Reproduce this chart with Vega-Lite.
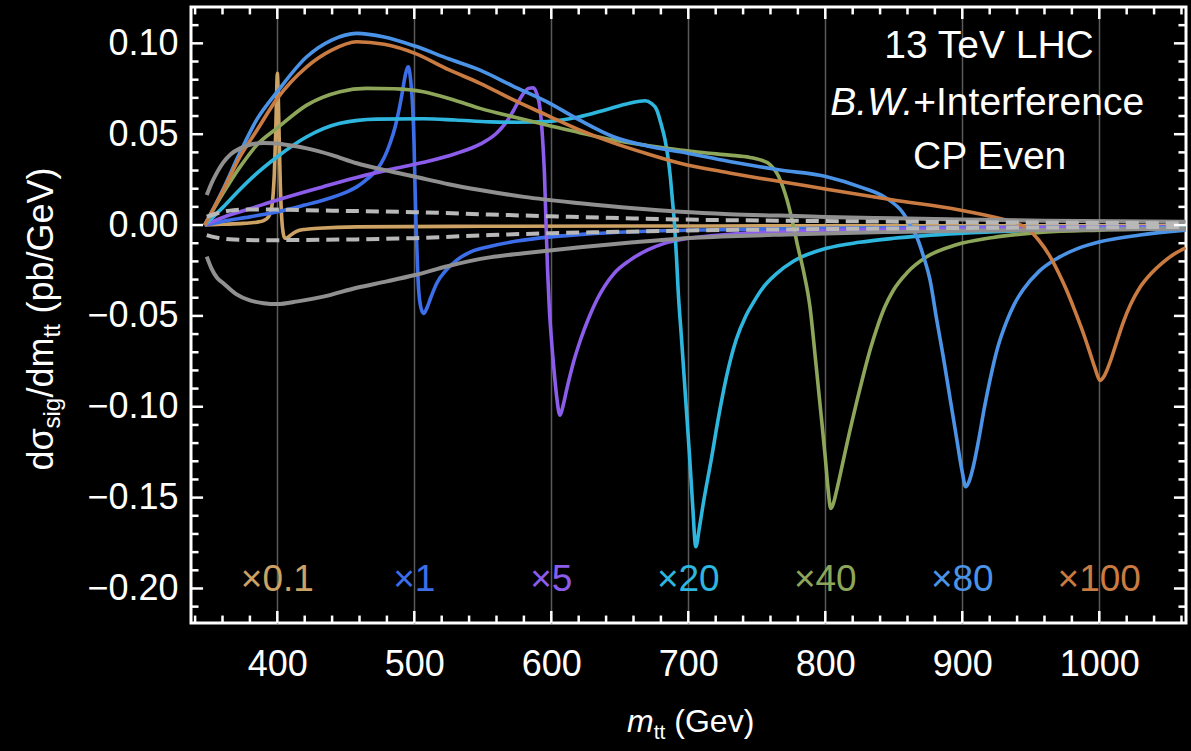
{
  "$schema": "https://vega.github.io/schema/vega-lite/v6.json",
  "width": 995,
  "height": 616,
  "autosize": {"type": "none"},
  "padding": {"left": 191, "top": 7, "right": 5, "bottom": 128},
  "background": "#000000",
  "config": {
    "view": {"stroke": "#ffffff", "strokeWidth": 3},
    "axis": {
      "domain": false,
      "grid": false,
      "labelFont": "Liberation Sans",
      "titleFont": "Liberation Sans",
      "labelColor": "#ffffff",
      "titleColor": "#ffffff",
      "titleFontWeight": "normal",
      "labelFontSize": 36
    }
  },
  "datasets": {
    "curves": [
      {"s": "x0.1", "x": 347, "y": 0}, {"s": "x0.1", "x": 360, "y": 0.0004}, {"s": "x0.1", "x": 375, "y": 0.0009}, {"s": "x0.1", "x": 385, "y": 0.0016}, {"s": "x0.1", "x": 390, "y": 0.0025}, {"s": "x0.1", "x": 393, "y": 0.004}, {"s": "x0.1", "x": 395, "y": 0.007}, {"s": "x0.1", "x": 396.5, "y": 0.013}, {"s": "x0.1", "x": 397.8, "y": 0.028}, {"s": "x0.1", "x": 398.8, "y": 0.05}, {"s": "x0.1", "x": 399.5, "y": 0.072}, {"s": "x0.1", "x": 400, "y": 0.0835}, {"s": "x0.1", "x": 400.6, "y": 0.074}, {"s": "x0.1", "x": 401.3, "y": 0.05}, {"s": "x0.1", "x": 402.2, "y": 0.022}, {"s": "x0.1", "x": 403.2, "y": 0.004}, {"s": "x0.1", "x": 404.2, "y": -0.004}, {"s": "x0.1", "x": 405.5, "y": -0.0073}, {"s": "x0.1", "x": 407, "y": -0.0072}, {"s": "x0.1", "x": 409, "y": -0.006}, {"s": "x0.1", "x": 414, "y": -0.0035}, {"s": "x0.1", "x": 420, "y": -0.0024}, {"s": "x0.1", "x": 430, "y": -0.0018}, {"s": "x0.1", "x": 458, "y": -0.001}, {"s": "x0.1", "x": 550, "y": -0.0007}, {"s": "x0.1", "x": 700, "y": -0.0005}, {"s": "x0.1", "x": 900, "y": -0.0004}, {"s": "x0.1", "x": 1063, "y": -0.0003},

      {"s": "x1", "x": 347, "y": 0}, {"s": "x1", "x": 360, "y": 0.002}, {"s": "x1", "x": 380, "y": 0.0045}, {"s": "x1", "x": 400, "y": 0.0073}, {"s": "x1", "x": 420, "y": 0.011}, {"s": "x1", "x": 434, "y": 0.0138}, {"s": "x1", "x": 450, "y": 0.018}, {"s": "x1", "x": 458, "y": 0.021}, {"s": "x1", "x": 466, "y": 0.0255}, {"s": "x1", "x": 472.5, "y": 0.0303}, {"s": "x1", "x": 478, "y": 0.037}, {"s": "x1", "x": 482.3, "y": 0.045}, {"s": "x1", "x": 486, "y": 0.054}, {"s": "x1", "x": 488.3, "y": 0.0615}, {"s": "x1", "x": 491, "y": 0.072}, {"s": "x1", "x": 493.2, "y": 0.0816}, {"s": "x1", "x": 495.6, "y": 0.0871}, {"s": "x1", "x": 497.3, "y": 0.08}, {"s": "x1", "x": 498.8, "y": 0.065}, {"s": "x1", "x": 499.8, "y": 0.045}, {"s": "x1", "x": 500.5, "y": 0.022}, {"s": "x1", "x": 501.3, "y": 0}, {"s": "x1", "x": 502.2, "y": -0.02}, {"s": "x1", "x": 503.2, "y": -0.036}, {"s": "x1", "x": 505, "y": -0.046}, {"s": "x1", "x": 506.8, "y": -0.0486}, {"s": "x1", "x": 509, "y": -0.046}, {"s": "x1", "x": 512, "y": -0.04}, {"s": "x1", "x": 516.4, "y": -0.032}, {"s": "x1", "x": 523, "y": -0.025}, {"s": "x1", "x": 531, "y": -0.0193}, {"s": "x1", "x": 542, "y": -0.0145}, {"s": "x1", "x": 555, "y": -0.0118}, {"s": "x1", "x": 575, "y": -0.0088}, {"s": "x1", "x": 600, "y": -0.0065}, {"s": "x1", "x": 625, "y": -0.005}, {"s": "x1", "x": 660, "y": -0.0037}, {"s": "x1", "x": 720, "y": -0.0026}, {"s": "x1", "x": 800, "y": -0.0018}, {"s": "x1", "x": 900, "y": -0.0013}, {"s": "x1", "x": 1063, "y": -0.0009},

      {"s": "x5", "x": 347, "y": 0}, {"s": "x5", "x": 365, "y": 0.0055}, {"s": "x5", "x": 380, "y": 0.009}, {"s": "x5", "x": 400, "y": 0.0138}, {"s": "x5", "x": 433, "y": 0.021}, {"s": "x5", "x": 458, "y": 0.0262}, {"s": "x5", "x": 482, "y": 0.0305}, {"s": "x5", "x": 507, "y": 0.0345}, {"s": "x5", "x": 531, "y": 0.0395}, {"s": "x5", "x": 548, "y": 0.0445}, {"s": "x5", "x": 560, "y": 0.0505}, {"s": "x5", "x": 566, "y": 0.0555}, {"s": "x5", "x": 572, "y": 0.0625}, {"s": "x5", "x": 576, "y": 0.068}, {"s": "x5", "x": 580, "y": 0.0728}, {"s": "x5", "x": 583.5, "y": 0.0752}, {"s": "x5", "x": 586.9, "y": 0.0756}, {"s": "x5", "x": 589.5, "y": 0.072}, {"s": "x5", "x": 591.8, "y": 0.064}, {"s": "x5", "x": 593.6, "y": 0.048}, {"s": "x5", "x": 595, "y": 0.028}, {"s": "x5", "x": 596.2, "y": 0}, {"s": "x5", "x": 597.3, "y": -0.025}, {"s": "x5", "x": 598.5, "y": -0.045}, {"s": "x5", "x": 600, "y": -0.062}, {"s": "x5", "x": 602, "y": -0.08}, {"s": "x5", "x": 604, "y": -0.095}, {"s": "x5", "x": 605.5, "y": -0.103}, {"s": "x5", "x": 606.4, "y": -0.1046}, {"s": "x5", "x": 608.4, "y": -0.1}, {"s": "x5", "x": 611.4, "y": -0.09}, {"s": "x5", "x": 616.4, "y": -0.075}, {"s": "x5", "x": 621.4, "y": -0.063}, {"s": "x5", "x": 627.4, "y": -0.051}, {"s": "x5", "x": 633.4, "y": -0.041}, {"s": "x5", "x": 645.4, "y": -0.027}, {"s": "x5", "x": 657.5, "y": -0.0193}, {"s": "x5", "x": 670, "y": -0.0138}, {"s": "x5", "x": 682, "y": -0.0102}, {"s": "x5", "x": 700, "y": -0.0073}, {"s": "x5", "x": 730, "y": -0.0051}, {"s": "x5", "x": 770, "y": -0.0036}, {"s": "x5", "x": 850, "y": -0.0023}, {"s": "x5", "x": 950, "y": -0.0015}, {"s": "x5", "x": 1063, "y": -0.001},

      {"s": "x20", "x": 347, "y": 0}, {"s": "x20", "x": 360.6, "y": 0.01}, {"s": "x20", "x": 372, "y": 0.019}, {"s": "x20", "x": 385, "y": 0.0284}, {"s": "x20", "x": 400, "y": 0.0376}, {"s": "x20", "x": 421.5, "y": 0.0486}, {"s": "x20", "x": 445.8, "y": 0.056}, {"s": "x20", "x": 472.5, "y": 0.0583}, {"s": "x20", "x": 506.6, "y": 0.0585}, {"s": "x20", "x": 530, "y": 0.0578}, {"s": "x20", "x": 555, "y": 0.0568}, {"s": "x20", "x": 575, "y": 0.0566}, {"s": "x20", "x": 597, "y": 0.057}, {"s": "x20", "x": 620, "y": 0.0595}, {"s": "x20", "x": 640, "y": 0.0635}, {"s": "x20", "x": 657, "y": 0.067}, {"s": "x20", "x": 668.4, "y": 0.0684}, {"s": "x20", "x": 673, "y": 0.067}, {"s": "x20", "x": 677, "y": 0.0633}, {"s": "x20", "x": 680, "y": 0.056}, {"s": "x20", "x": 683, "y": 0.047}, {"s": "x20", "x": 685, "y": 0.038}, {"s": "x20", "x": 686.6, "y": 0.0286}, {"s": "x20", "x": 688.5, "y": 0.013}, {"s": "x20", "x": 690, "y": 0}, {"s": "x20", "x": 691.4, "y": -0.018}, {"s": "x20", "x": 692.6, "y": -0.036}, {"s": "x20", "x": 695, "y": -0.062}, {"s": "x20", "x": 698, "y": -0.095}, {"s": "x20", "x": 701, "y": -0.128}, {"s": "x20", "x": 703, "y": -0.152}, {"s": "x20", "x": 705.5, "y": -0.177}, {"s": "x20", "x": 708, "y": -0.167}, {"s": "x20", "x": 711, "y": -0.153}, {"s": "x20", "x": 717, "y": -0.128}, {"s": "x20", "x": 722, "y": -0.106}, {"s": "x20", "x": 728, "y": -0.083}, {"s": "x20", "x": 735, "y": -0.063}, {"s": "x20", "x": 742, "y": -0.05}, {"s": "x20", "x": 748, "y": -0.042}, {"s": "x20", "x": 755, "y": -0.034}, {"s": "x20", "x": 764, "y": -0.027}, {"s": "x20", "x": 777, "y": -0.0198}, {"s": "x20", "x": 801, "y": -0.0128}, {"s": "x20", "x": 825, "y": -0.0095}, {"s": "x20", "x": 850, "y": -0.0073}, {"s": "x20", "x": 898, "y": -0.0046}, {"s": "x20", "x": 950, "y": -0.003}, {"s": "x20", "x": 1000, "y": -0.0022}, {"s": "x20", "x": 1063, "y": -0.0015},

      {"s": "x40", "x": 347, "y": 0}, {"s": "x40", "x": 360, "y": 0.017}, {"s": "x40", "x": 372.8, "y": 0.032}, {"s": "x40", "x": 385, "y": 0.044}, {"s": "x40", "x": 400, "y": 0.0534}, {"s": "x40", "x": 421.5, "y": 0.066}, {"s": "x40", "x": 445.8, "y": 0.0734}, {"s": "x40", "x": 465, "y": 0.0752}, {"s": "x40", "x": 485, "y": 0.075}, {"s": "x40", "x": 506.6, "y": 0.0734}, {"s": "x40", "x": 530, "y": 0.0685}, {"s": "x40", "x": 548, "y": 0.0642}, {"s": "x40", "x": 575, "y": 0.059}, {"s": "x40", "x": 596.6, "y": 0.055}, {"s": "x40", "x": 620, "y": 0.051}, {"s": "x40", "x": 645.3, "y": 0.0468}, {"s": "x40", "x": 670, "y": 0.0438}, {"s": "x40", "x": 694, "y": 0.0413}, {"s": "x40", "x": 712, "y": 0.0398}, {"s": "x40", "x": 730, "y": 0.0385}, {"s": "x40", "x": 745, "y": 0.0372}, {"s": "x40", "x": 752, "y": 0.036}, {"s": "x40", "x": 760, "y": 0.033}, {"s": "x40", "x": 767, "y": 0.025}, {"s": "x40", "x": 772, "y": 0.014}, {"s": "x40", "x": 776.6, "y": 0}, {"s": "x40", "x": 780, "y": -0.012}, {"s": "x40", "x": 784, "y": -0.025}, {"s": "x40", "x": 788.8, "y": -0.045}, {"s": "x40", "x": 793, "y": -0.075}, {"s": "x40", "x": 797, "y": -0.105}, {"s": "x40", "x": 800, "y": -0.128}, {"s": "x40", "x": 802, "y": -0.145}, {"s": "x40", "x": 804, "y": -0.156}, {"s": "x40", "x": 806, "y": -0.153}, {"s": "x40", "x": 808, "y": -0.147}, {"s": "x40", "x": 813, "y": -0.13}, {"s": "x40", "x": 818, "y": -0.113}, {"s": "x40", "x": 823, "y": -0.097}, {"s": "x40", "x": 828, "y": -0.082}, {"s": "x40", "x": 833, "y": -0.068}, {"s": "x40", "x": 838, "y": -0.056}, {"s": "x40", "x": 843.5, "y": -0.045}, {"s": "x40", "x": 849.6, "y": -0.036}, {"s": "x40", "x": 860, "y": -0.026}, {"s": "x40", "x": 874, "y": -0.0175}, {"s": "x40", "x": 895, "y": -0.011}, {"s": "x40", "x": 922.6, "y": -0.0068}, {"s": "x40", "x": 959, "y": -0.004}, {"s": "x40", "x": 1000, "y": -0.0028}, {"s": "x40", "x": 1063, "y": -0.0018},

      {"s": "x80", "x": 347, "y": 0}, {"s": "x80", "x": 360.6, "y": 0.02}, {"s": "x80", "x": 372.8, "y": 0.04}, {"s": "x80", "x": 385, "y": 0.058}, {"s": "x80", "x": 400, "y": 0.0734}, {"s": "x80", "x": 421.5, "y": 0.0926}, {"s": "x80", "x": 439.7, "y": 0.1018}, {"s": "x80", "x": 458, "y": 0.1055}, {"s": "x80", "x": 478, "y": 0.1035}, {"s": "x80", "x": 500.5, "y": 0.0985}, {"s": "x80", "x": 525, "y": 0.0915}, {"s": "x80", "x": 548, "y": 0.0853}, {"s": "x80", "x": 572, "y": 0.0765}, {"s": "x80", "x": 596.6, "y": 0.0679}, {"s": "x80", "x": 620, "y": 0.058}, {"s": "x80", "x": 645.3, "y": 0.0486}, {"s": "x80", "x": 670, "y": 0.0435}, {"s": "x80", "x": 694, "y": 0.0403}, {"s": "x80", "x": 730, "y": 0.035}, {"s": "x80", "x": 752, "y": 0.0321}, {"s": "x80", "x": 767, "y": 0.0303}, {"s": "x80", "x": 801, "y": 0.0266}, {"s": "x80", "x": 825.3, "y": 0.021}, {"s": "x80", "x": 844.8, "y": 0.0147}, {"s": "x80", "x": 857, "y": 0.0064}, {"s": "x80", "x": 862, "y": 0}, {"s": "x80", "x": 866.7, "y": -0.0064}, {"s": "x80", "x": 872, "y": -0.018}, {"s": "x80", "x": 876.4, "y": -0.03}, {"s": "x80", "x": 881.3, "y": -0.052}, {"s": "x80", "x": 886, "y": -0.072}, {"s": "x80", "x": 891, "y": -0.095}, {"s": "x80", "x": 896, "y": -0.118}, {"s": "x80", "x": 900, "y": -0.136}, {"s": "x80", "x": 902.5, "y": -0.144}, {"s": "x80", "x": 905, "y": -0.141}, {"s": "x80", "x": 908, "y": -0.133}, {"s": "x80", "x": 912, "y": -0.118}, {"s": "x80", "x": 916, "y": -0.101}, {"s": "x80", "x": 920.2, "y": -0.0853}, {"s": "x80", "x": 926, "y": -0.067}, {"s": "x80", "x": 932.4, "y": -0.053}, {"s": "x80", "x": 938, "y": -0.0435}, {"s": "x80", "x": 944.5, "y": -0.0355}, {"s": "x80", "x": 956, "y": -0.0255}, {"s": "x80", "x": 968.9, "y": -0.0185}, {"s": "x80", "x": 985, "y": -0.0127}, {"s": "x80", "x": 1000.5, "y": -0.0092}, {"s": "x80", "x": 1029.7, "y": -0.0055}, {"s": "x80", "x": 1063, "y": -0.0028},

      {"s": "x100", "x": 347, "y": 0}, {"s": "x100", "x": 360.6, "y": 0.0193}, {"s": "x100", "x": 372.8, "y": 0.0376}, {"s": "x100", "x": 385, "y": 0.052}, {"s": "x100", "x": 400, "y": 0.0697}, {"s": "x100", "x": 421.5, "y": 0.0871}, {"s": "x100", "x": 439.7, "y": 0.0963}, {"s": "x100", "x": 458, "y": 0.1009}, {"s": "x100", "x": 478, "y": 0.0995}, {"s": "x100", "x": 500.5, "y": 0.0945}, {"s": "x100", "x": 525, "y": 0.0855}, {"s": "x100", "x": 548, "y": 0.078}, {"s": "x100", "x": 572, "y": 0.069}, {"s": "x100", "x": 596.6, "y": 0.0605}, {"s": "x100", "x": 620, "y": 0.0525}, {"s": "x100", "x": 645.3, "y": 0.0452}, {"s": "x100", "x": 670, "y": 0.0392}, {"s": "x100", "x": 694, "y": 0.034}, {"s": "x100", "x": 730, "y": 0.0287}, {"s": "x100", "x": 752, "y": 0.0258}, {"s": "x100", "x": 767, "y": 0.024}, {"s": "x100", "x": 801, "y": 0.0197}, {"s": "x100", "x": 849.6, "y": 0.0138}, {"s": "x100", "x": 898, "y": 0.0083}, {"s": "x100", "x": 927.5, "y": 0.0036}, {"s": "x100", "x": 940, "y": 0.001}, {"s": "x100", "x": 948, "y": -0.0022}, {"s": "x100", "x": 956, "y": -0.0085}, {"s": "x100", "x": 964, "y": -0.0172}, {"s": "x100", "x": 970, "y": -0.0258}, {"s": "x100", "x": 976, "y": -0.0356}, {"s": "x100", "x": 982, "y": -0.0468}, {"s": "x100", "x": 988.3, "y": -0.0594}, {"s": "x100", "x": 993.5, "y": -0.071}, {"s": "x100", "x": 997, "y": -0.079}, {"s": "x100", "x": 1000.5, "y": -0.0855}, {"s": "x100", "x": 1003, "y": -0.0838}, {"s": "x100", "x": 1005.5, "y": -0.08}, {"s": "x100", "x": 1007.8, "y": -0.0755}, {"s": "x100", "x": 1012, "y": -0.066}, {"s": "x100", "x": 1017.5, "y": -0.0535}, {"s": "x100", "x": 1023, "y": -0.0435}, {"s": "x100", "x": 1029.5, "y": -0.0345}, {"s": "x100", "x": 1038, "y": -0.0265}, {"s": "x100", "x": 1046.5, "y": -0.0205}, {"s": "x100", "x": 1055, "y": -0.0158}, {"s": "x100", "x": 1063, "y": -0.0125},

      {"s": "bandHi", "x": 348.5, "y": 0.0165}, {"s": "bandHi", "x": 352, "y": 0.023}, {"s": "bandHi", "x": 356, "y": 0.029}, {"s": "bandHi", "x": 360.6, "y": 0.0345}, {"s": "bandHi", "x": 366, "y": 0.039}, {"s": "bandHi", "x": 372.8, "y": 0.0422}, {"s": "bandHi", "x": 380, "y": 0.0442}, {"s": "bandHi", "x": 390, "y": 0.0452}, {"s": "bandHi", "x": 397, "y": 0.045}, {"s": "bandHi", "x": 410, "y": 0.0438}, {"s": "bandHi", "x": 421.5, "y": 0.0422}, {"s": "bandHi", "x": 440, "y": 0.0385}, {"s": "bandHi", "x": 458, "y": 0.034}, {"s": "bandHi", "x": 480, "y": 0.03}, {"s": "bandHi", "x": 500.5, "y": 0.0266}, {"s": "bandHi", "x": 525, "y": 0.0225}, {"s": "bandHi", "x": 548, "y": 0.0193}, {"s": "bandHi", "x": 580, "y": 0.0155}, {"s": "bandHi", "x": 621, "y": 0.012}, {"s": "bandHi", "x": 660, "y": 0.0092}, {"s": "bandHi", "x": 694, "y": 0.0073}, {"s": "bandHi", "x": 730, "y": 0.006}, {"s": "bandHi", "x": 767, "y": 0.0052}, {"s": "bandHi", "x": 800, "y": 0.0045}, {"s": "bandHi", "x": 850, "y": 0.0037}, {"s": "bandHi", "x": 900, "y": 0.003}, {"s": "bandHi", "x": 960, "y": 0.0024}, {"s": "bandHi", "x": 1063, "y": 0.0018},

      {"s": "bandLo", "x": 348.5, "y": -0.0174}, {"s": "bandLo", "x": 352, "y": -0.024}, {"s": "bandLo", "x": 356, "y": -0.029}, {"s": "bandLo", "x": 360.6, "y": -0.032}, {"s": "bandLo", "x": 370, "y": -0.038}, {"s": "bandLo", "x": 380, "y": -0.0415}, {"s": "bandLo", "x": 390, "y": -0.043}, {"s": "bandLo", "x": 400, "y": -0.0435}, {"s": "bandLo", "x": 415, "y": -0.042}, {"s": "bandLo", "x": 433.6, "y": -0.0394}, {"s": "bandLo", "x": 458, "y": -0.0345}, {"s": "bandLo", "x": 480, "y": -0.031}, {"s": "bandLo", "x": 500.5, "y": -0.0275}, {"s": "bandLo", "x": 525, "y": -0.0225}, {"s": "bandLo", "x": 555, "y": -0.0178}, {"s": "bandLo", "x": 580, "y": -0.0155}, {"s": "bandLo", "x": 621, "y": -0.0122}, {"s": "bandLo", "x": 660, "y": -0.0095}, {"s": "bandLo", "x": 694, "y": -0.0075}, {"s": "bandLo", "x": 730, "y": -0.0062}, {"s": "bandLo", "x": 767, "y": -0.0053}, {"s": "bandLo", "x": 800, "y": -0.0046}, {"s": "bandLo", "x": 850, "y": -0.0038}, {"s": "bandLo", "x": 900, "y": -0.0032}, {"s": "bandLo", "x": 960, "y": -0.0027}, {"s": "bandLo", "x": 1063, "y": -0.002},

      {"s": "dashHi", "x": 348.5, "y": 0.0046}, {"s": "dashHi", "x": 355, "y": 0.0062}, {"s": "dashHi", "x": 368, "y": 0.0082}, {"s": "dashHi", "x": 385, "y": 0.0086}, {"s": "dashHi", "x": 400, "y": 0.0085}, {"s": "dashHi", "x": 433, "y": 0.008}, {"s": "dashHi", "x": 458, "y": 0.0077}, {"s": "dashHi", "x": 500, "y": 0.0071}, {"s": "dashHi", "x": 555, "y": 0.0058}, {"s": "dashHi", "x": 600, "y": 0.0048}, {"s": "dashHi", "x": 650, "y": 0.0038}, {"s": "dashHi", "x": 700, "y": 0.003}, {"s": "dashHi", "x": 800, "y": 0.0022}, {"s": "dashHi", "x": 900, "y": 0.0016}, {"s": "dashHi", "x": 1063, "y": 0.001},

      {"s": "dashLo", "x": 348.5, "y": -0.0055}, {"s": "dashLo", "x": 355, "y": -0.0068}, {"s": "dashLo", "x": 368, "y": -0.008}, {"s": "dashLo", "x": 385, "y": -0.0083}, {"s": "dashLo", "x": 400, "y": -0.0083}, {"s": "dashLo", "x": 433, "y": -0.0081}, {"s": "dashLo", "x": 458, "y": -0.0079}, {"s": "dashLo", "x": 500, "y": -0.0072}, {"s": "dashLo", "x": 555, "y": -0.0055}, {"s": "dashLo", "x": 600, "y": -0.0045}, {"s": "dashLo", "x": 650, "y": -0.0037}, {"s": "dashLo", "x": 700, "y": -0.003}, {"s": "dashLo", "x": 800, "y": -0.0022}, {"s": "dashLo", "x": 900, "y": -0.0016}, {"s": "dashLo", "x": 1063, "y": -0.001}
    ],
    "factors": [
      {"s": "x0.1", "x": 400, "y": -0.1955, "t": "×0.1"},
      {"s": "x1", "x": 500, "y": -0.1955, "t": "×1"},
      {"s": "x5", "x": 600, "y": -0.1955, "t": "×5"},
      {"s": "x20", "x": 700, "y": -0.1955, "t": "×20"},
      {"s": "x40", "x": 800, "y": -0.1955, "t": "×40"},
      {"s": "x80", "x": 900, "y": -0.1955, "t": "×80"},
      {"s": "x100", "x": 1000, "y": -0.1955, "t": "×100"}
    ],
    "xmajor": [{"v": 400}, {"v": 500}, {"v": 600}, {"v": 700}, {"v": 800}, {"v": 900}, {"v": 1000}],
    "xminor": [
      {"v": 340}, {"v": 360}, {"v": 380}, {"v": 420}, {"v": 440}, {"v": 460}, {"v": 480}, {"v": 520}, {"v": 540}, {"v": 560}, {"v": 580},
      {"v": 620}, {"v": 640}, {"v": 660}, {"v": 680}, {"v": 720}, {"v": 740}, {"v": 760}, {"v": 780}, {"v": 820}, {"v": 840}, {"v": 860}, {"v": 880},
      {"v": 920}, {"v": 940}, {"v": 960}, {"v": 980}, {"v": 1020}, {"v": 1040}, {"v": 1060}
    ],
    "ymajor": [{"v": -0.2}, {"v": -0.15}, {"v": -0.1}, {"v": -0.05}, {"v": 0}, {"v": 0.05}, {"v": 0.1}],
    "yminor": [
      {"v": -0.21}, {"v": -0.19}, {"v": -0.18}, {"v": -0.17}, {"v": -0.16}, {"v": -0.14}, {"v": -0.13}, {"v": -0.12}, {"v": -0.11},
      {"v": -0.09}, {"v": -0.08}, {"v": -0.07}, {"v": -0.06}, {"v": -0.04}, {"v": -0.03}, {"v": -0.02}, {"v": -0.01},
      {"v": 0.01}, {"v": 0.02}, {"v": 0.03}, {"v": 0.04}, {"v": 0.06}, {"v": 0.07}, {"v": 0.08}, {"v": 0.09}, {"v": 0.11}
    ],
    "anchor": [{"x": 700, "y": 0}]
  },
  "layer": [
    {
      "data": {"name": "curves"},
      "transform": [{"filter": "test(/^x/, datum.s)"}],
      "mark": {"type": "line", "interpolate": "monotone", "strokeWidth": 3.6, "clip": true},
      "encoding": {
        "x": {"field": "x", "type": "quantitative", "scale": {"domain": [337, 1063.3], "nice": false, "zero": false},
          "axis": {"orient": "bottom", "values": [400, 500, 600, 700, 800, 900, 1000], "format": "d", "ticks": false, "grid": true, "gridColor": "#5a5a5a", "gridWidth": 1.5, "labels": true, "labelPadding": 52, "labelBaseline": "alphabetic", "labelFlush": false, "labelOverlap": false, "title": null}},
        "y": {"field": "y", "type": "quantitative", "scale": {"domain": [-0.219, 0.12], "nice": false, "zero": false},
          "axis": {"orient": "left", "values": [-0.2, -0.15, -0.1, -0.05, 0, 0.05, 0.1], "format": ".2f", "ticks": false, "labels": true, "labelPadding": 13, "labelBaseline": "middle", "labelFlush": false, "labelOverlap": false, "title": null}},
        "color": {"field": "s", "type": "nominal", "legend": null,
          "scale": {"domain": ["x0.1", "x1", "x5", "x20", "x40", "x80", "x100"], "range": ["#CDA265", "#3C6EEA", "#8C5CEB", "#2EB6DE", "#8EA65A", "#4B93E6", "#C97B42"]}},
        "order": {"field": "x", "type": "quantitative"}
      }
    },
    {
      "data": {"name": "curves"},
      "transform": [{"filter": "test(/^band/, datum.s)"}],
      "mark": {"type": "line", "interpolate": "monotone", "strokeWidth": 4, "color": "#909090", "clip": true},
      "encoding": {
        "x": {"field": "x", "type": "quantitative", "axis": null},
        "y": {"field": "y", "type": "quantitative", "axis": null},
        "detail": {"field": "s"},
        "order": {"field": "x", "type": "quantitative"}
      }
    },
    {
      "data": {"name": "curves"},
      "transform": [{"filter": "test(/^dash/, datum.s)"}],
      "mark": {"type": "line", "interpolate": "monotone", "strokeWidth": 4, "strokeDash": [13, 7], "color": "#b8b8b8", "clip": true},
      "encoding": {
        "x": {"field": "x", "type": "quantitative", "axis": null},
        "y": {"field": "y", "type": "quantitative", "axis": null},
        "detail": {"field": "s"},
        "order": {"field": "x", "type": "quantitative"}
      }
    },
    {
      "data": {"name": "xmajor"},
      "mark": {"type": "rule", "color": "#ffffff", "strokeWidth": 2.5, "opacity": 1},
      "encoding": {
        "x": {"field": "v", "type": "quantitative", "axis": null},
        "y": {"datum": -0.219, "type": "quantitative", "axis": null},
        "y2": {"datum": -0.2124}
      }
    },
    {
      "data": {"name": "xmajor"},
      "mark": {"type": "rule", "color": "#ffffff", "strokeWidth": 2.5, "opacity": 1},
      "encoding": {
        "x": {"field": "v", "type": "quantitative", "axis": null},
        "y": {"datum": 0.12, "type": "quantitative", "axis": null},
        "y2": {"datum": 0.1134}
      }
    },
    {
      "data": {"name": "xminor"},
      "mark": {"type": "rule", "color": "#ffffff", "strokeWidth": 2.5, "opacity": 1},
      "encoding": {
        "x": {"field": "v", "type": "quantitative", "axis": null},
        "y": {"datum": -0.219, "type": "quantitative", "axis": null},
        "y2": {"datum": -0.2149}
      }
    },
    {
      "data": {"name": "xminor"},
      "mark": {"type": "rule", "color": "#ffffff", "strokeWidth": 2.5, "opacity": 1},
      "encoding": {
        "x": {"field": "v", "type": "quantitative", "axis": null},
        "y": {"datum": 0.12, "type": "quantitative", "axis": null},
        "y2": {"datum": 0.1159}
      }
    },
    {
      "data": {"name": "ymajor"},
      "mark": {"type": "rule", "color": "#ffffff", "strokeWidth": 2.5, "opacity": 1},
      "encoding": {
        "y": {"field": "v", "type": "quantitative", "axis": null},
        "x": {"datum": 337, "type": "quantitative", "axis": null},
        "x2": {"datum": 345.8}
      }
    },
    {
      "data": {"name": "ymajor"},
      "mark": {"type": "rule", "color": "#ffffff", "strokeWidth": 2.5, "opacity": 1},
      "encoding": {
        "y": {"field": "v", "type": "quantitative", "axis": null},
        "x": {"datum": 1063.3, "type": "quantitative", "axis": null},
        "x2": {"datum": 1054.5}
      }
    },
    {
      "data": {"name": "yminor"},
      "mark": {"type": "rule", "color": "#ffffff", "strokeWidth": 2.5, "opacity": 1},
      "encoding": {
        "y": {"field": "v", "type": "quantitative", "axis": null},
        "x": {"datum": 337, "type": "quantitative", "axis": null},
        "x2": {"datum": 342.5}
      }
    },
    {
      "data": {"name": "yminor"},
      "mark": {"type": "rule", "color": "#ffffff", "strokeWidth": 2.5, "opacity": 1},
      "encoding": {
        "y": {"field": "v", "type": "quantitative", "axis": null},
        "x": {"datum": 1063.3, "type": "quantitative", "axis": null},
        "x2": {"datum": 1057.8}
      }
    },
    {
      "data": {"values": [
        {"x": 919.5, "y": 0.0985, "t": "13 TeV LHC"},
        {"x": 920, "y": 0.0374, "t": "CP Even"}
      ]},
      "mark": {"type": "text", "font": "Liberation Sans", "fontSize": 39, "color": "#ffffff", "align": "center", "baseline": "middle"},
      "encoding": {
        "x": {"field": "x", "type": "quantitative", "axis": null},
        "y": {"field": "y", "type": "quantitative", "axis": null},
        "text": {"field": "t"}
      }
    },
    {
      "data": {"values": [{"x": 864.2, "y": 0.0671, "t": "B.W."}]},
      "mark": {"type": "text", "font": "Liberation Sans", "fontSize": 39, "fontStyle": "italic", "color": "#ffffff", "align": "right", "baseline": "middle"},
      "encoding": {
        "x": {"field": "x", "type": "quantitative", "axis": null},
        "y": {"field": "y", "type": "quantitative", "axis": null},
        "text": {"field": "t"}
      }
    },
    {
      "data": {"values": [{"x": 864.2, "y": 0.0671, "t": "+Interference"}]},
      "mark": {"type": "text", "font": "Liberation Sans", "fontSize": 39, "color": "#ffffff", "align": "left", "baseline": "middle"},
      "encoding": {
        "x": {"field": "x", "type": "quantitative",
          "axis": {"orient": "bottom", "ticks": false, "labels": false, "title": "m", "titleX": 435.5, "titleY": 108, "titleAlign": "left", "titleBaseline": "alphabetic", "titleFontSize": 32, "titleFontStyle": "italic"}},
        "y": {"field": "y", "type": "quantitative",
          "axis": {"orient": "left", "ticks": false, "labels": false, "title": "dσ", "titleX": -139, "titleY": 463, "titleAngle": 270, "titleAlign": "left", "titleBaseline": "alphabetic", "titleFontSize": 36}},
        "text": {"field": "t"}
      }
    },
    {
      "data": {"name": "factors"},
      "mark": {"type": "text", "font": "Liberation Sans", "fontSize": 37, "align": "center", "baseline": "middle"},
      "encoding": {
        "x": {"field": "x", "type": "quantitative",
          "axis": {"orient": "bottom", "ticks": false, "labels": false, "title": "tt", "titleX": 462.2, "titleY": 115, "titleAlign": "left", "titleBaseline": "alphabetic", "titleFontSize": 21}},
        "y": {"field": "y", "type": "quantitative",
          "axis": {"orient": "left", "ticks": false, "labels": false, "title": "sig", "titleX": -132, "titleY": 421, "titleAngle": 270, "titleAlign": "left", "titleBaseline": "alphabetic", "titleFontSize": 24}},
        "text": {"field": "t"},
        "color": {"field": "s", "type": "nominal", "legend": null}
      }
    },
    {
      "data": {"name": "anchor"},
      "mark": {"type": "point", "opacity": 0},
      "encoding": {
        "x": {"field": "x", "type": "quantitative",
          "axis": {"orient": "bottom", "ticks": false, "labels": false, "title": "(Gev)", "titleX": 482.8, "titleY": 108, "titleAlign": "left", "titleBaseline": "alphabetic", "titleFontSize": 32}},
        "y": {"field": "y", "type": "quantitative",
          "axis": {"orient": "left", "ticks": false, "labels": false, "title": "/dm", "titleX": -139, "titleY": 390, "titleAngle": 270, "titleAlign": "left", "titleBaseline": "alphabetic", "titleFontSize": 36}}
      }
    },
    {
      "data": {"name": "anchor"},
      "mark": {"type": "point", "opacity": 0},
      "encoding": {
        "x": {"field": "x", "type": "quantitative", "axis": null},
        "y": {"field": "y", "type": "quantitative",
          "axis": {"orient": "left", "ticks": false, "labels": false, "title": "tt", "titleX": -132, "titleY": 330, "titleAngle": 270, "titleAlign": "left", "titleBaseline": "alphabetic", "titleFontSize": 24}}
      }
    },
    {
      "data": {"name": "anchor"},
      "mark": {"type": "point", "opacity": 0},
      "encoding": {
        "x": {"field": "x", "type": "quantitative", "axis": null},
        "y": {"field": "y", "type": "quantitative",
          "axis": {"orient": "left", "ticks": false, "labels": false, "title": "(pb/GeV)", "titleX": -139, "titleY": 306, "titleAngle": 270, "titleAlign": "left", "titleBaseline": "alphabetic", "titleFontSize": 36}}
      }
    }
  ],
  "resolve": {"axis": {"x": "independent", "y": "independent"}}
}
